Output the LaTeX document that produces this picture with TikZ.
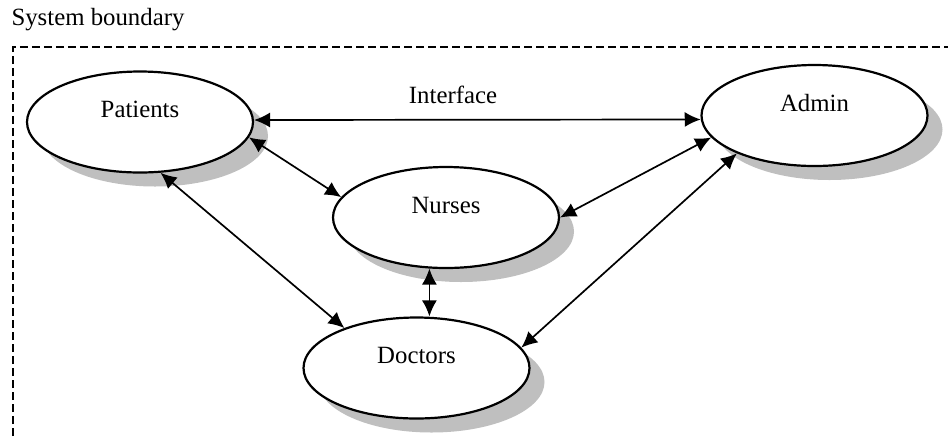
\documentclass[tikz,border=0pt]{standalone}
\usepackage{fontspec}
\setmainfont{Liberation Serif}
\usetikzlibrary{shapes.geometric,shadows,arrows.meta}
\begin{document}
\begin{tikzpicture}
    [
    x=0.5pt, y=-0.5pt,
    every node/.style={font=\fontsize{12.4}{14}\selectfont},
    actor/.style={ellipse,draw,line width=1.1pt,fill=white,inner sep=0pt,minimum width=113pt,minimum height=50.5pt,
      drop shadow={shadow xshift=7.5pt,shadow yshift=-7pt,fill=black!25,opacity=1}},
    link/.style={line width=0.85pt,{Latex[length=8pt,width=7.5pt]}-{Latex[length=8pt,width=7.5pt]}},
    boundary/.style={line width=0.7pt,dash pattern=on 4pt off 2pt}
    ]
    \useasboundingbox (0,0) rectangle (948,436);

    \node (title) at (98,20) {System boundary};
    \draw [boundary] (13,436) -- (13,47) -- (948,47);

    \node (patients) at (140,122) [actor,label={[yshift=6.5pt]center:Patients}] {};
    \node (admin) at (814.5,115.5) [actor,label={[yshift=6pt]center:Admin}] {};
    \node (nurses) at (446,217.5) [actor,label={[yshift=6pt]center:Nurses}] {};
    \node (doctors) at (416.5,368) [actor,label={[yshift=6.5pt]center:Doctors}] {};
    \node (iface) at (453,95) {Interface};

    \draw [link] (patients.1) to (admin.182);
    \draw [link] (patients.-8) to (nurses.169);
    \draw [link] (patients.-68) to (doctors.151);
    \draw [link] (admin.192) to (nurses.0);
    \draw [link] (admin.206) to (doctors.11);
    \draw [link] (nurses.252) to (nurses.252 |- doctors.north);
\end{tikzpicture}
\end{document}
